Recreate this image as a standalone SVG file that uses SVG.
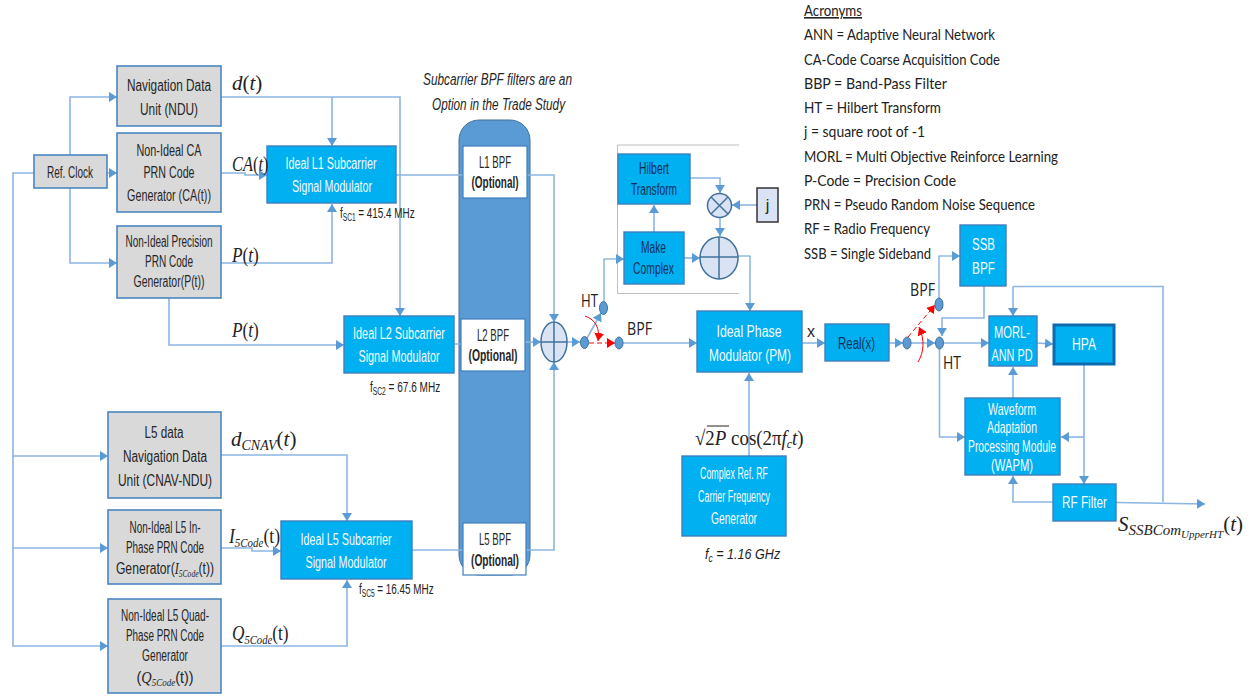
<svg xmlns="http://www.w3.org/2000/svg" width="1254" height="696" viewBox="0 0 1254 696">
<style>
text{font-family:"Liberation Sans",Arial,sans-serif;font-size:16px;text-anchor:middle;fill:#262626}
.w{fill:#f4fbff}.n{fill:#10305c}
.g{fill:#d9d9d9;stroke:#4a86c0;stroke-width:1.6}
.b{fill:#00b0f0;stroke:#3f7fbd;stroke-width:1.4}
.o{fill:#fff;stroke:#3f7fbd;stroke-width:1.2}
.c{fill:none;stroke:#8ab6e2;stroke-width:1.6}
.d{fill:none;stroke:#5b9bd5;stroke-width:1.1}
.r{fill:none;stroke:#f00;stroke-width:1}
.rd{stroke-dasharray:5 3}
.j{fill:#dae3f3;stroke:#41719c;stroke-width:1.5}
.s{fill:#5b9bd5;stroke:#41719c;stroke-width:1}
.m{font-family:"Liberation Serif",serif;font-style:italic;font-size:21px;text-anchor:start;fill:#222}
.u{font-family:"Liberation Serif",serif;font-style:normal}
.i{font-family:"Liberation Serif",serif;font-style:italic}
.a{font-family:"Lato","Open Sans",sans-serif;font-size:16px;text-anchor:start;fill:#222}
.f{font-size:15px;text-anchor:start;fill:#222}
.h{font-family:"Open Sans",sans-serif;font-size:19px;text-anchor:start;fill:#222}
</style>
<defs>
<marker id="ar" markerUnits="userSpaceOnUse" markerWidth="9" markerHeight="10" refX="8" refY="5" orient="auto"><path d="M0,0L8,5L0,10Z" fill="#5b9bd5"/></marker>
<marker id="rr" markerUnits="userSpaceOnUse" markerWidth="9" markerHeight="10" refX="8" refY="5" orient="auto"><path d="M0,0L8,5L0,10Z" fill="#f00"/></marker>
</defs>

<g id="capsule"><rect x="459" y="120" width="71" height="455" rx="20" ry="20" fill="#5b9bd5" stroke="#41719c" stroke-width="1"/></g>
<g id="ht-frame"><path d="M739,145H617.500V293.500H739" fill="none" stroke="#bfbfbf" stroke-width="1"/></g>

<g id="connectors">
<path class="c" marker-end="url(#ar)" d="M70,155V97H117"/>
<path class="c" marker-end="url(#ar)" d="M107,173H117"/>
<path class="c" marker-end="url(#ar)" d="M70,188V263H117"/>
<path class="c" marker-end="url(#ar)" d="M34,173H13V456H108"/>
<path class="c" marker-end="url(#ar)" d="M13,548H108"/>
<path class="c" marker-end="url(#ar)" d="M13,456V646H108"/>
<path class="c" marker-end="url(#ar)" d="M221,97H400V316"/>
<path class="c" marker-end="url(#ar)" d="M332,97V146"/>
<path class="c" marker-end="url(#ar)" d="M221,173H245V175H267"/>
<path class="c" marker-end="url(#ar)" d="M221,263H332V204"/>
<path class="c" marker-end="url(#ar)" d="M169,298V345H344"/>
<path class="c" marker-end="url(#ar)" d="M221,455H347V521"/>
<path class="c" marker-end="url(#ar)" d="M221,548H252V551H281"/>
<path class="c" marker-end="url(#ar)" d="M221,646H347V580"/>
<path class="c" d="M396,175H463"/>
<path class="c" d="M454,344H461"/>
<path class="c" d="M412,550H463"/>
<path class="c" marker-end="url(#ar)" d="M527,175H554V322"/>
<path class="c" marker-end="url(#ar)" d="M525,342H541"/>
<path class="c" marker-end="url(#ar)" d="M526,550H554V362"/>
<path class="c" marker-end="url(#ar)" d="M567,342H580"/>
<path class="c" marker-end="url(#ar)" d="M586,340L601,313"/>
<path class="d" marker-end="url(#ar)" d="M604,302V259H624"/>
<path class="c" marker-end="url(#ar)" d="M623,343H697"/>
<path class="c" marker-end="url(#ar)" d="M654,232V205"/>
<path class="c" marker-end="url(#ar)" d="M690,178H720V193"/>
<path class="c" marker-end="url(#ar)" d="M720,217V236"/>
<path class="c" marker-end="url(#ar)" d="M757,205H732"/>
<path class="c" marker-end="url(#ar)" d="M684,258H700"/>
<path class="d" marker-end="url(#ar)" d="M738,256H750V311"/>
<path class="c" marker-end="url(#ar)" d="M749,456V373"/>
<path class="c" marker-end="url(#ar)" d="M802,343H825"/>
<path class="c" marker-end="url(#ar)" d="M889,343H903"/>
<path class="c" marker-end="url(#ar)" d="M911,343H935"/>
<path class="d" marker-end="url(#ar)" d="M939,298V256H960"/>
<path class="c" marker-end="url(#ar)" d="M984,286V318H942V336"/>
<path class="c" marker-end="url(#ar)" d="M944,343H989"/>
<path class="c" marker-end="url(#ar)" d="M1037,343L1053,344"/>
<path class="c" marker-end="url(#ar)" d="M939.500,349V437H965"/>
<path class="c" marker-end="url(#ar)" d="M1013,398V367"/>
<path class="c" marker-end="url(#ar)" d="M1084,364V484"/>
<path class="c" marker-end="url(#ar)" d="M1084,437H1061"/>
<path class="c" marker-end="url(#ar)" d="M1053,502H1013V476"/>
<path class="c" d="M1163,502V286.500H1013"/>
<path class="c" marker-end="url(#ar)" d="M1013,286.500V316"/>
<path class="c" marker-end="url(#ar)" d="M1116,502.500L1205,504"/>
<path class="r rd" marker-end="url(#rr)" d="M589,343H615"/>
<path class="r" marker-end="url(#rr)" d="M585,316C596,320 600,328 598,341"/>
<path class="r rd" marker-end="url(#rr)" d="M908,337L935,305"/>
<path class="r" marker-end="url(#rr)" d="M918,362C924,352 925,340 919,327"/>
</g>

<g id="ref-clock"><rect class="g" x="34" y="155" width="73" height="33"/><text x="70" y="178" textLength="46" lengthAdjust="spacingAndGlyphs">Ref. Clock</text></g>
<g id="ndu"><rect class="g" x="117" y="66" width="104" height="60"/><text x="169" y="91" textLength="84" lengthAdjust="spacingAndGlyphs">Navigation  Data</text><text x="169" y="115" textLength="58" lengthAdjust="spacingAndGlyphs">Unit (NDU)</text></g>
<g id="ca-gen"><rect class="g" x="117" y="133" width="104" height="79"/><text x="169" y="156" textLength="65" lengthAdjust="spacingAndGlyphs">Non-Ideal  CA</text><text x="169" y="178" textLength="51" lengthAdjust="spacingAndGlyphs">PRN Code</text><text x="169" y="201" textLength="84" lengthAdjust="spacingAndGlyphs">Generator  (CA(t))</text></g>
<g id="p-gen"><rect class="g" x="117" y="226" width="104" height="72"/><text x="169" y="247" textLength="87" lengthAdjust="spacingAndGlyphs" font-size="15">Non-Ideal Precision</text><text x="169" y="267" textLength="48" lengthAdjust="spacingAndGlyphs" font-size="15">PRN Code</text><text x="169" y="287" textLength="71" lengthAdjust="spacingAndGlyphs" font-size="15">Generator(P(t))</text></g>
<g id="l5-data"><rect class="g" x="108" y="412" width="113" height="86"/><text x="164" y="438" textLength="39" lengthAdjust="spacingAndGlyphs">L5 data</text><text x="165" y="462" textLength="84" lengthAdjust="spacingAndGlyphs">Navigation  Data</text><text x="165" y="486" textLength="94" lengthAdjust="spacingAndGlyphs">Unit (CNAV-NDU)</text></g>
<g id="i5-gen"><rect class="g" x="108" y="510" width="113" height="74"/><text x="165" y="533" textLength="71" lengthAdjust="spacingAndGlyphs" font-size="15">Non-Ideal L5 In-</text><text x="165" y="553" textLength="78" lengthAdjust="spacingAndGlyphs" font-size="15">Phase PRN Code</text><text transform="translate(165,574) scale(.76,1)" font-size="15">Generator(<tspan class="i">I<tspan font-size="10" dy="3">5Code</tspan></tspan><tspan dy="-3">(t))</tspan></text></g>
<g id="q5-gen"><rect class="g" x="108" y="599" width="113" height="94"/><text x="165" y="621" textLength="88" lengthAdjust="spacingAndGlyphs" font-size="15">Non-Ideal L5 Quad-</text><text x="165" y="641" textLength="78" lengthAdjust="spacingAndGlyphs" font-size="15">Phase PRN Code</text><text x="165" y="661" textLength="46" lengthAdjust="spacingAndGlyphs" font-size="15">Generator</text><text transform="translate(165,683) scale(.9,1)" font-size="15">(<tspan class="i">Q<tspan font-size="10" dy="3">5Code</tspan></tspan><tspan dy="-3">(t))</tspan></text></g>

<g id="l1-mod"><rect class="b" x="267" y="146" width="129" height="57"/><text class="w" x="331" y="169" textLength="91" lengthAdjust="spacingAndGlyphs">Ideal  L1 Subcarrier</text><text class="w" x="332" y="192" textLength="80" lengthAdjust="spacingAndGlyphs">Signal Modulator</text></g>
<g id="l2-mod"><rect class="b" x="344" y="316" width="110" height="57"/><text class="w" x="399" y="339" textLength="92" lengthAdjust="spacingAndGlyphs">Ideal  L2 Subcarrier</text><text class="w" x="399" y="362" textLength="81" lengthAdjust="spacingAndGlyphs">Signal Modulator</text></g>
<g id="l5-mod"><rect class="b" x="281" y="521" width="131" height="58"/><text class="w" x="346" y="545" textLength="91" lengthAdjust="spacingAndGlyphs">Ideal  L5 Subcarrier</text><text class="w" x="346" y="568" textLength="81" lengthAdjust="spacingAndGlyphs">Signal Modulator</text></g>

<g id="l1-bpf"><rect class="o" x="463" y="146" width="64" height="52"/><text x="495" y="168" textLength="32" lengthAdjust="spacingAndGlyphs" font-size="15">L1 BPF</text><text x="495" y="188" font-size="15" font-weight="bold" textLength="47" lengthAdjust="spacingAndGlyphs">(Optional)</text></g>
<g id="l2-bpf"><rect class="o" x="461" y="319" width="64" height="52"/><text x="493" y="341" textLength="32" lengthAdjust="spacingAndGlyphs" font-size="15">L2 BPF</text><text x="493" y="361" font-size="15" font-weight="bold" textLength="49" lengthAdjust="spacingAndGlyphs">(Optional)</text></g>
<g id="l5-bpf"><rect class="o" x="463" y="523" width="63" height="52"/><text x="495" y="545" textLength="32" lengthAdjust="spacingAndGlyphs" font-size="15">L5 BPF</text><text x="495" y="566" font-size="15" font-weight="bold" textLength="48" lengthAdjust="spacingAndGlyphs">(Optional)</text></g>

<g id="sum1"><ellipse class="j" cx="554" cy="342" rx="13" ry="20"/><path class="j" d="M541,342H567M554,322V362"/></g>
<g id="switch-1-in"><ellipse class="s" cx="584.500" cy="342.500" rx="4" ry="6"/></g>
<g id="switch-1-ht"><ellipse class="s" cx="603.500" cy="308" rx="4" ry="6.500"/></g>
<g id="switch-1-bpf"><ellipse class="s" cx="619" cy="343" rx="4" ry="6"/></g>

<g id="hilbert"><rect class="b" x="618" y="154" width="72" height="50"/><text class="n" x="654" y="174" textLength="30" lengthAdjust="spacingAndGlyphs" font-size="15">Hilbert</text><text class="n" x="654" y="195" textLength="46" lengthAdjust="spacingAndGlyphs" font-size="15">Transform</text></g>
<g id="make-complex"><rect class="b" x="624" y="232" width="60" height="52"/><text class="n" x="653.500" y="253" textLength="25" lengthAdjust="spacingAndGlyphs" font-size="15">Make</text><text class="n" x="653.500" y="274" textLength="41" lengthAdjust="spacingAndGlyphs" font-size="15">Complex</text></g>
<g id="mult"><circle class="j" cx="719.500" cy="205.500" r="12"/><path class="j" d="M711,197L728,214M728,197L711,214"/></g>
<g id="sum2"><ellipse class="j" cx="719" cy="258" rx="19" ry="21"/><path class="j" d="M700,257H738M719,237V279"/></g>
<g id="j-box"><rect x="757" y="188" width="21" height="34" fill="#dae3f3" stroke="#333" stroke-width="1.5"/><text x="767.500" y="211">j</text></g>

<g id="pm"><rect class="b" x="697" y="311" width="105" height="61"/><text class="w" x="749" y="337" textLength="65" lengthAdjust="spacingAndGlyphs" font-size="17">Ideal  Phase</text><text class="w" x="750" y="361" textLength="82" lengthAdjust="spacingAndGlyphs" font-size="17">Modulator (PM)</text></g>
<g id="carrier-gen"><rect class="b" x="682" y="456" width="104" height="80"/><text class="w" x="734" y="479" textLength="68" lengthAdjust="spacingAndGlyphs" font-size="15">Complex Ref. RF</text><text class="w" x="734" y="502" textLength="72" lengthAdjust="spacingAndGlyphs" font-size="15">Carrier Frequency</text><text class="w" x="734" y="524" textLength="46" lengthAdjust="spacingAndGlyphs" font-size="15">Generator</text></g>
<g id="real"><rect class="b" x="825" y="324" width="64" height="37"/><text class="n" x="856.500" y="349" textLength="37" lengthAdjust="spacingAndGlyphs" font-size="18">Real(x)</text></g>

<g id="switch-2-in"><ellipse class="s" cx="907" cy="343" rx="4" ry="6"/></g>
<g id="switch-2-bpf"><ellipse class="s" cx="939" cy="304.500" rx="4" ry="6.500"/></g>
<g id="switch-2-ht"><ellipse class="s" cx="939.500" cy="343" rx="4" ry="6"/></g>

<g id="ssb-bpf"><rect class="b" x="960" y="225" width="46" height="61"/><text class="w" x="983.500" y="250" textLength="23" lengthAdjust="spacingAndGlyphs" font-size="19">SSB</text><text class="w" x="983.500" y="274" textLength="23" lengthAdjust="spacingAndGlyphs" font-size="19">BPF</text></g>
<g id="morl"><rect class="b" x="989" y="316" width="48" height="50"/><text class="w" x="1012" y="338" textLength="36" lengthAdjust="spacingAndGlyphs" font-size="18">MORL-</text><text class="w" x="1012" y="361" textLength="41" lengthAdjust="spacingAndGlyphs" font-size="18">ANN PD</text></g>
<g id="hpa"><rect x="1054" y="325" width="60" height="39" fill="#00b0f0" stroke="#0f6bb0" stroke-width="3"/><text class="w" x="1084" y="350" textLength="24" lengthAdjust="spacingAndGlyphs" font-size="19">HPA</text></g>
<g id="wapm"><rect class="b" x="965" y="398" width="95" height="77"/><text class="w" x="1012" y="415" textLength="48" lengthAdjust="spacingAndGlyphs">Waveform</text><text class="w" x="1012" y="433" textLength="50" lengthAdjust="spacingAndGlyphs">Adaptation</text><text class="w" x="1012" y="452" textLength="88" lengthAdjust="spacingAndGlyphs">Processing Module</text><text class="w" x="1012" y="471" textLength="42" lengthAdjust="spacingAndGlyphs">(WAPM)</text></g>
<g id="rf-filter"><rect class="b" x="1053" y="484" width="63" height="37"/><text class="w" x="1084.500" y="508" textLength="45" lengthAdjust="spacingAndGlyphs" font-size="18">RF Filter</text></g>

<g id="labels">
<text class="m" x="232" y="90">d<tspan class="u">(</tspan>t<tspan class="u">)</tspan></text>
<text class="m" transform="translate(232,171) scale(.78,1)" font-size="19">CA<tspan class="u">(</tspan>t<tspan class="u">)</tspan></text>
<text class="m" transform="translate(232,262) scale(.82,1)" font-size="19">P<tspan class="u">(</tspan>t<tspan class="u">)</tspan></text>
<text class="m" transform="translate(232,337) scale(.82,1)" font-size="19">P<tspan class="u">(</tspan>t<tspan class="u">)</tspan></text>
<text class="m" x="231" y="446">d<tspan font-size="14" dy="4">CNAV</tspan><tspan class="u" dy="-4">(</tspan>t<tspan class="u">)</tspan></text>
<text class="m" transform="translate(229,543) scale(.84,1)" font-size="19">I<tspan font-size="13" dy="4">5Code</tspan><tspan class="u" dy="-4">(t)</tspan></text>
<text class="m" transform="translate(232,640) scale(.82,1)" font-size="19">Q<tspan font-size="13" dy="4">5Code</tspan><tspan class="u" dy="-4">(t)</tspan></text>
<text class="f" transform="translate(340,218) scale(.66,1)">f<tspan font-size="10" dy="3">SC1</tspan><tspan dy="-3"> = 415.4 MHz</tspan></text>
<text class="f" transform="translate(370,392) scale(.67,1)">f<tspan font-size="10" dy="3">SC2</tspan><tspan dy="-3"> = 67.6 MHz</tspan></text>
<text class="f" transform="translate(359,594) scale(.66,1)">f<tspan font-size="10" dy="3">SC5</tspan><tspan dy="-3"> = 16.45 MHz</tspan></text>
<text class="f" transform="translate(705,559) scale(.84,1)" font-style="italic">f<tspan font-size="10" dy="3">c</tspan><tspan dy="-3"> = 1.16 GHz</tspan></text>
<text x="497.500" y="85" font-style="italic" textLength="149" lengthAdjust="spacingAndGlyphs">Subcarrier BPF filters are an</text>
<text x="498.500" y="110" font-style="italic" textLength="133" lengthAdjust="spacingAndGlyphs">Option in the Trade Study</text>
<text class="h" x="581" y="307" textLength="17" lengthAdjust="spacingAndGlyphs">HT</text>
<text class="h" x="627" y="335" textLength="25" lengthAdjust="spacingAndGlyphs">BPF</text>
<text class="h" x="910" y="296" textLength="25" lengthAdjust="spacingAndGlyphs">BPF</text>
<text class="h" x="943" y="369" textLength="18" lengthAdjust="spacingAndGlyphs">HT</text>
<text x="811" y="337" font-size="13">x</text>
<text class="m" transform="translate(695,445) scale(.9,1)" font-size="20"><tspan class="u">√2</tspan>P<tspan class="u"> cos(2π</tspan>f<tspan font-size="13" dy="3">c</tspan><tspan dy="-3">t</tspan><tspan class="u">)</tspan></text>
<path d="M707,426H729" stroke="#222" stroke-width="1" fill="none"/>
<text class="m" x="1118" y="531">S<tspan font-size="15" dy="4">SSBCom</tspan><tspan font-size="11" dy="3">UpperHT</tspan><tspan class="u" dy="-7">(</tspan>t<tspan class="u">)</tspan></text>
</g>

<g id="acronyms">
<text class="a" x="804" y="16" text-decoration="underline" textLength="58" lengthAdjust="spacingAndGlyphs">Acronyms</text>
<text class="a" x="804" y="40" textLength="191" lengthAdjust="spacingAndGlyphs">ANN = Adaptive Neural Network</text>
<text class="a" x="804" y="65" textLength="196" lengthAdjust="spacingAndGlyphs">CA-Code Coarse Acquisition Code</text>
<text class="a" x="804" y="89" textLength="143" lengthAdjust="spacingAndGlyphs">BBP = Band-Pass Filter</text>
<text class="a" x="804" y="113" textLength="137" lengthAdjust="spacingAndGlyphs">HT = Hilbert Transform</text>
<text class="a" x="804" y="137" textLength="121" lengthAdjust="spacingAndGlyphs">j = square root of -1</text>
<text class="a" x="804" y="162" textLength="254" lengthAdjust="spacingAndGlyphs">MORL = Multi Objective Reinforce Learning</text>
<text class="a" x="804" y="186" textLength="152" lengthAdjust="spacingAndGlyphs">P-Code = Precision Code</text>
<text class="a" x="804" y="210" textLength="231" lengthAdjust="spacingAndGlyphs">PRN = Pseudo Random Noise Sequence</text>
<text class="a" x="804" y="234" textLength="126" lengthAdjust="spacingAndGlyphs">RF = Radio Frequency</text>
<text class="a" x="804" y="259" textLength="127" lengthAdjust="spacingAndGlyphs">SSB = Single Sideband</text>
</g>
</svg>
